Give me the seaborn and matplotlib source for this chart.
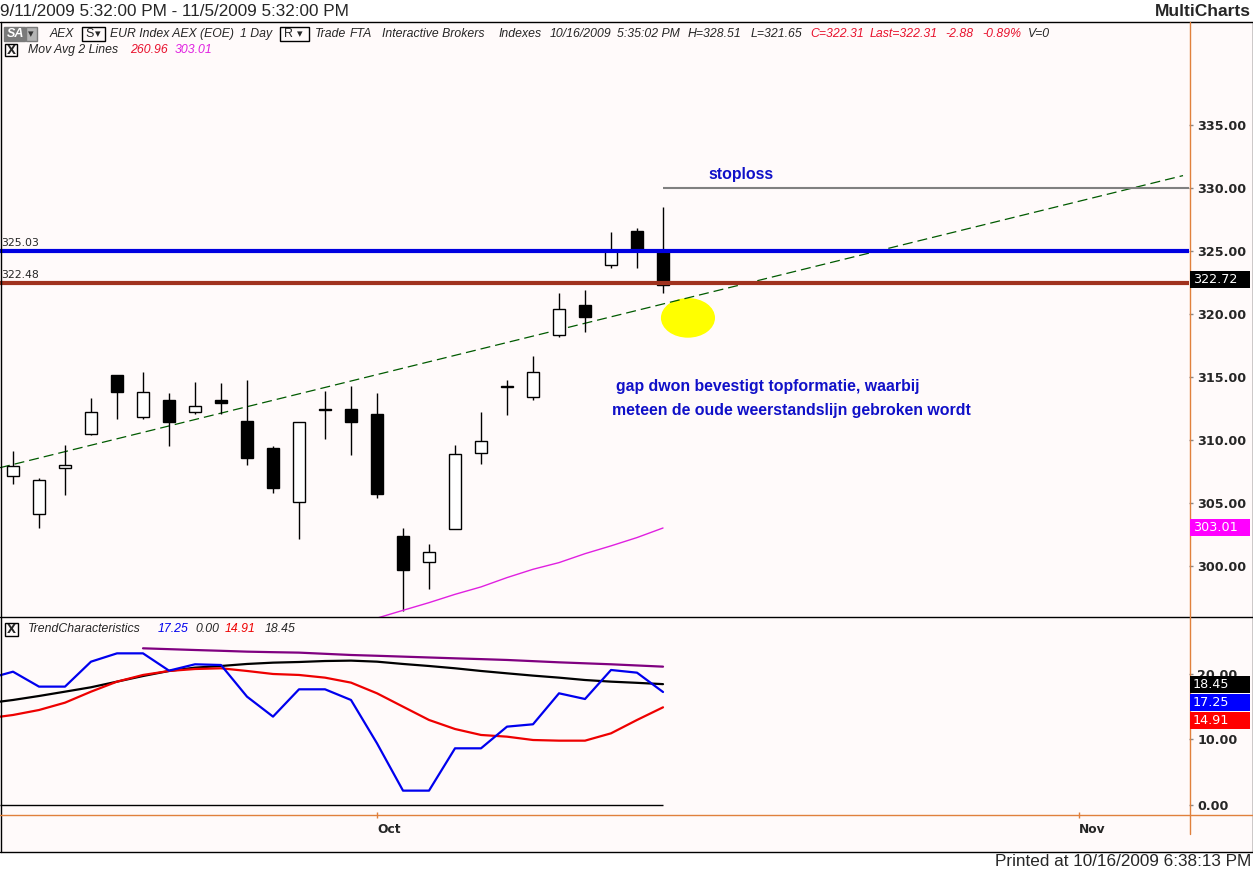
import numpy as np
import matplotlib
matplotlib.use("Agg")
import matplotlib.pyplot as plt
from matplotlib.patches import Rectangle, Ellipse
from matplotlib.lines import Line2D
import seaborn as sns

# AEX daily bars, 11 Sep 2009 - 16 Oct 2009 (bar index 0..25)
open_ = [307.1, 304.1, 307.8, 310.5, 315.2, 311.8, 313.2, 312.2, 313.2, 311.5, 309.4, 305.1, 312.5,
         312.5, 312.1, 302.4, 300.3, 302.9, 309.0, 314.2, 313.4, 318.3, 320.7, 323.9, 326.6, 324.9]
high = [309.1, 307.0, 309.6, 313.3, 315.2, 315.4, 313.7, 314.6, 314.5, 314.8, 309.5, 311.4, 313.9,
        314.3, 313.7, 303.0, 301.7, 309.6, 312.2, 314.8, 316.7, 321.7, 321.9, 326.5, 326.8, 328.51]
low = [306.5, 303.0, 305.6, 310.4, 311.7, 311.7, 309.5, 312.1, 312.1, 308.0, 305.8, 302.1, 310.1,
       308.8, 305.4, 296.4, 298.2, 302.9, 308.1, 312.0, 313.2, 318.2, 318.6, 323.7, 323.7, 321.65]
close = [307.9, 306.8, 308.0, 312.2, 313.8, 313.8, 311.4, 312.7, 312.9, 308.6, 306.2, 311.4, 312.4,
         311.4, 305.7, 299.7, 301.1, 308.9, 309.9, 314.25, 315.4, 320.4, 319.8, 325.0, 325.1, 322.31]

# Mov Avg (magenta), bars 14..25
ma_idx = list(range(14, 26))
ma_vals = [295.85, 296.47, 297.08, 297.74, 298.33, 299.07, 299.73, 300.26, 300.97, 301.59, 302.25, 303.01]

# TrendCharacteristics, bars -1..25 (bar -1 is the day before the visible range)
tc_idx = list(range(-1, 26))
tc_blue = [19.25, 20.35, 18.07, 18.07, 21.88, 23.15, 23.15, 20.51, 21.48, 21.37, 16.54, 13.49, 17.66, 17.66,
           16.03, 9.41, 2.19, 2.19, 8.65, 8.65, 11.96, 12.32, 17.05, 16.18, 20.61, 20.2, 17.25]
tc_red = [13.22, 13.74, 14.50, 15.62, 17.30, 18.83, 19.85, 20.46, 20.76, 20.87, 20.46, 20.0, 19.85, 19.44,
          18.68, 17.05, 15.01, 12.98, 11.60, 10.69, 10.43, 9.92, 9.82, 9.82, 10.94, 12.98, 14.91]
tc_black = [15.53, 16.03, 16.64, 17.30, 17.97, 18.83, 19.69, 20.46, 20.97, 21.22, 21.53, 21.73, 21.83, 21.98,
            22.04, 21.88, 21.53, 21.22, 20.87, 20.46, 20.10, 19.75, 19.44, 19.08, 18.83, 18.65, 18.45]
tc_purple_idx = list(range(5, 26))
tc_purple = [23.92, 23.79, 23.66, 23.54, 23.41, 23.33, 23.26, 23.08, 22.90, 22.78, 22.65, 22.52, 22.39,
             22.27, 22.14, 21.96, 21.78, 21.63, 21.48, 21.30, 21.12]

# drawn lines / levels
level_blue = 325.03
level_brown = 322.48
stoploss = 330.0
stoploss_start = 25
trend_x = [-0.5, 45.0]
trend_y = [307.8, 331.0]
circle_xy = (25.96, 319.7)
last_label = 322.72

xtick_pos = [14, 41]
xtick_lab = ["Oct", "Nov"]
price_ticks = [300, 305, 310, 315, 320, 325, 330, 335]
tc_ticks = [0, 10, 20]

sns.set_style("white")
plt.rcParams['font.family'] = ['Liberation Sans', 'DejaVu Sans']

W, H = 1253, 873
fig = plt.figure(figsize=(W / 100, H / 100), dpi=100, facecolor='white')


def fx(px):
    return px / W


def fy(py):
    return 1 - py / H


BG = '#fffafa'
ORANGE = '#e0803c'
RED = '#e8112d'

fig.add_artist(Rectangle((0, fy(852)), 1, (852 - 21) / H, transform=fig.transFigure,
                         facecolor=BG, edgecolor='none', zorder=-10))

ax = fig.add_axes([0, fy(617), fx(1189), (617 - 22) / H])
ax2 = fig.add_axes([0, fy(815), fx(1189), (815 - 617) / H])
for a in (ax, ax2):
    a.set_facecolor(BG)
    for s in a.spines.values():
        s.set_visible(False)
    a.set_xlim(-0.5, 45.23)

# ---- candles
idx = np.arange(len(close))
o, h, l, c = map(np.array, (open_, high, low, close))
ax.vlines(idx, l, h, color='black', lw=1.0, zorder=3)
body_lo = np.minimum(o, c)
body_h = np.maximum(np.abs(c - o), 0.08)
ax.bar(idx, body_h, bottom=body_lo, width=0.46,
       color=list(np.where(c >= o, 'white', 'black')), edgecolor='black', linewidth=1.0, zorder=4)

ax.add_patch(Ellipse(circle_xy, width=2.08, height=3.15, facecolor='#ffff00', edgecolor='none', zorder=1.5))
ax.plot(trend_x, trend_y, color='#005a00', lw=0.9, dashes=(8, 4), zorder=2)
ax.axhline(level_blue, color='#0000e0', lw=3, zorder=5)
ax.axhline(level_brown, color='#a0321e', lw=3, zorder=5)
ax.hlines(stoploss, stoploss_start, 45.23, color='#808080', lw=1.5, zorder=5)
sns.lineplot(x=ma_idx, y=ma_vals, ax=ax, color='#e020e0', linewidth=1.0, zorder=3)

ax.set_ylim(295.94, 343.2)
ax.set_xticks([])
ax.yaxis.tick_right()
ax.set_yticks(price_ticks)
ax.set_yticklabels([f"{v:.2f}" for v in price_ticks], fontweight='bold', fontfamily='DejaVu Sans')
ax.tick_params(axis='y', right=True, left=False, length=3, width=1, color='#888888', pad=3, labelsize=9.2)
ax.set_xlabel('')
ax.set_ylabel('')

# ---- TrendCharacteristics panel
ax2.hlines(0, -0.5, 25, color='black', lw=1.0)
sns.lineplot(x=tc_purple_idx, y=tc_purple, ax=ax2, color='#800080', linewidth=1.6)
sns.lineplot(x=tc_idx, y=tc_black, ax=ax2, color='black', linewidth=1.6)
sns.lineplot(x=tc_idx, y=tc_red, ax=ax2, color='#ee0000', linewidth=1.6)
sns.lineplot(x=tc_idx, y=tc_blue, ax=ax2, color='#0000ee', linewidth=1.6)
ax2.set_xlim(-0.5, 45.23)
ax2.set_ylim(-1.53, 28.7)
ax2.yaxis.tick_right()
ax2.set_yticks(tc_ticks)
ax2.set_yticklabels([f"{v:.2f}" for v in tc_ticks], fontweight='bold', fontfamily='DejaVu Sans')
ax2.tick_params(axis='y', right=True, left=False, length=3, width=1, color='#888888', pad=3, labelsize=9.2)
ax2.set_xticks(xtick_pos)
ax2.set_xticklabels(xtick_lab, fontweight='bold', fontfamily='DejaVu Sans', ha='left')
ax2.tick_params(axis='x', bottom=True, direction='inout', length=5, width=1, color=ORANGE, pad=3, labelsize=8.8)
ax2.set_xlabel('')
ax2.set_ylabel('')

# ---- frame lines
def fline(x0, y0, x1, y1, color='black', lw=1.0):
    fig.add_artist(Line2D([fx(x0), fx(x1)], [fy(y0), fy(y1)], transform=fig.transFigure,
                          color=color, lw=lw, zorder=8))


fline(0, 21.5, W, 21.5)
fline(0, 851.5, W, 851.5)
fline(0.5, 21.5, 0.5, 851.5)
fline(W - 0.5, 21.5, W - 0.5, 851.5)
fline(0, 616.5, W, 616.5)
fline(1189.5, 22, 1189.5, 834, color=ORANGE)
fline(0, 815, W, 815, color=ORANGE)


def ftext(px, py, s, **kw):
    kw.setdefault('va', 'center')
    kw.setdefault('ha', 'left')
    return fig.text(fx(px), fy(py), s, **kw)


def data_py(a, v):
    return H - a.transData.transform((0, v))[1]


def value_box(py, text, face):
    fig.add_artist(Rectangle((fx(1190), fy(py + 8.5)), fx(60), 17 / H, transform=fig.transFigure,
                             facecolor=face, edgecolor='none', zorder=9))
    ftext(1193, py, text, color='white', fontsize=9.2, family='DejaVu Sans', zorder=10)


value_box(data_py(ax, last_label), f"{last_label:.2f}", 'black')
value_box(data_py(ax, ma_vals[-1]), f"{ma_vals[-1]:.2f}", '#ff00ff')
py0 = data_py(ax2, tc_black[-1])
value_box(py0, f"{tc_black[-1]:.2f}", 'black')
value_box(py0 + 18, f"{tc_blue[-1]:.2f}", '#0000ff')
value_box(py0 + 36, f"{tc_red[-1]:.2f}", '#ff0000')

# level labels on the left
ftext(1, data_py(ax, level_blue) - 8, f"{level_blue:.2f}", fontsize=7.8, family='DejaVu Sans')
ftext(1, data_py(ax, level_brown) - 8, f"{level_brown:.2f}", fontsize=7.8, family='DejaVu Sans')

# ---- annotations
BLUE_TXT = '#1010c8'
ftext(708, 175, "stoploss", color=BLUE_TXT, fontsize=11.4, fontweight='bold')
ftext(616, 387, "gap dwon bevestigt topformatie, waarbij", color=BLUE_TXT, fontsize=11.4, fontweight='bold')
ftext(612, 410, "meteen de oude weerstandslijn gebroken wordt", color=BLUE_TXT, fontsize=11.4, fontweight='bold')

# ---- header
ftext(0, 11, "9/11/2009 5:32:00 PM - 11/5/2009 5:32:00 PM", fontsize=12.3)
ftext(1251, 11, "MultiCharts", fontsize=12.5, fontweight='bold', ha='right')
ftext(1251, 862, "Printed at 10/16/2009 6:38:13 PM", fontsize=12.3, ha='right')


def box(x0, y0, x1, y1, face='none', edge='black', lw=1.0):
    fig.add_artist(Rectangle((fx(x0), fy(y1)), fx(x1 - x0), (y1 - y0) / H, transform=fig.transFigure,
                             facecolor=face, edgecolor=edge, lw=lw, zorder=8))


HF = dict(fontsize=8.8, style='italic')
# SA selector
box(4, 27, 25, 41, face='#7a7a7a', edge='#7a7a7a')
box(26, 27, 37, 41, face='#b4b4b4', edge='#7a7a7a')
ftext(7, 34, "SA", color='white', fontweight='bold', fontsize=9, style='italic', zorder=9)
ftext(27.5, 34, "\u25be", color='#333333', fontsize=8, family='DejaVu Sans', zorder=9)
ftext(50, 34, "AEX", **HF)
box(82, 27, 105, 41)
ftext(85, 34, "S", fontsize=9, zorder=9)
ftext(95, 34, "\u25be", fontsize=8, family='DejaVu Sans', zorder=9)
ftext(110, 34, "EUR Index AEX (EOE)", **HF)
ftext(240, 34, "1 Day", **HF)
box(280, 27, 309, 41)
ftext(284, 34, "R", fontsize=9, zorder=9)
ftext(297, 34, "\u25be", fontsize=8, family='DejaVu Sans', zorder=9)
ftext(315, 34, "Trade", **HF)
ftext(350, 34, "FTA", **HF)
ftext(382, 34, "Interactive Brokers", **HF)
ftext(499, 34, "Indexes", **HF)
ftext(550, 34, "10/16/2009", **HF)
ftext(617, 34, "5:35:02 PM", **HF)
ftext(688, 34, f"H={high[-1]:.2f}", **HF)
ftext(751, 34, f"L={low[-1]:.2f}", **HF)
ftext(810, 34, f"C={close[-1]:.2f}", color=RED, **HF)
ftext(870, 34, f"Last={close[-1]:.2f}", color=RED, **HF)
ftext(945, 34, "-2.88", color=RED, **HF)
ftext(982, 34, "-0.89%", color=RED, **HF)
ftext(1028, 34, "V=0", **HF)

# Mov Avg row
box(5, 44, 17, 56)
ftext(11, 50, "X", fontsize=8.5, fontweight='bold', ha='center', family='DejaVu Sans', zorder=9)
ftext(28, 50, "Mov Avg 2 Lines", **HF)
ftext(130, 50, "260.96", color=RED, **HF)
ftext(175, 50, f"{ma_vals[-1]:.2f}", color='#e020e0', **HF)

# TrendCharacteristics row
box(5, 623, 18, 636)
ftext(11.5, 629.5, "X", fontsize=8.5, fontweight='bold', ha='center', family='DejaVu Sans', zorder=9)
ftext(28, 629, "TrendCharacteristics", **HF)
ftext(158, 629, f"{tc_blue[-1]:.2f}", color='#0000ee', **HF)
ftext(195, 629, "0.00", **HF)
ftext(225, 629, f"{tc_red[-1]:.2f}", color='#ee0000', **HF)
ftext(265, 629, f"{tc_black[-1]:.2f}", **HF)

fig.savefig("out.png", dpi=100, facecolor='white')
